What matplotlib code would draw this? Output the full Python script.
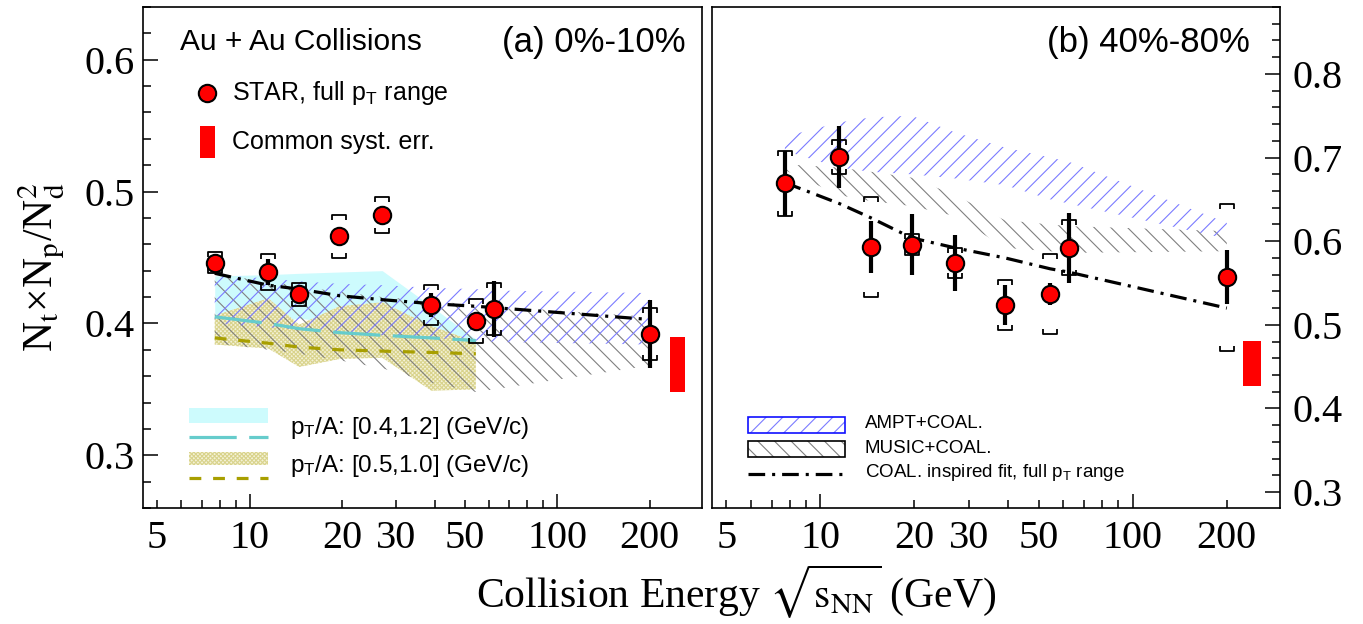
import numpy as np
import matplotlib
matplotlib.use('Agg')
import matplotlib.pyplot as plt
from matplotlib.path import Path
from matplotlib.patches import Rectangle
from matplotlib.ticker import FixedLocator, FuncFormatter, MultipleLocator

plt.rcParams['font.family'] = ['Liberation Sans', 'DejaVu Sans']
plt.rcParams['mathtext.fontset'] = 'custom'
plt.rcParams['mathtext.rm'] = 'Liberation Sans'
plt.rcParams['mathtext.it'] = 'Liberation Sans:italic'
plt.rcParams['hatch.linewidth'] = 0.8
plt.rcParams['lines.scale_dashes'] = False

# ---- data ----
energy = [7.7, 11.5, 14.5, 19.6, 27, 39, 54.4, 62.4, 200]
energy_pt = [7.7, 11.5, 14.5, 19.6, 27, 39, 54.4]

# (a) 0-10%
central_val = [0.446, 0.439, 0.422, 0.466, 0.482, 0.414, 0.402, 0.411, 0.392]
central_stat = [0.005, 0.0095, 0.004, 0.004, 0.004, 0.009, 0.002, 0.021, 0.026]
central_syst = [0.008, 0.0137, 0.009, 0.016, 0.0137, 0.015, 0.0167, 0.0198, 0.0197]
central_fit = [0.438, 0.429, 0.426, 0.421, 0.418, 0.415, 0.413, 0.412, 0.403]
ampt_c_hi = [0.437, 0.434, 0.432, 0.430, 0.429, 0.427, 0.426, 0.425, 0.423]
ampt_c_lo = [0.400, 0.397, 0.395, 0.393, 0.391, 0.389, 0.387, 0.386, 0.384]
music_c_hi = [0.437, 0.432, 0.428, 0.424, 0.420, 0.417, 0.414, 0.413, 0.405]
music_c_lo = [0.385, 0.380, 0.377, 0.372, 0.366, 0.355, 0.348, 0.350, 0.368]
cyan_hi = [0.436, 0.437, 0.438, 0.439, 0.440, 0.413, 0.388]
cyan_lo = [0.395, 0.400, 0.404, 0.400, 0.400, 0.390, 0.383]
yellow_hi = [0.406, 0.419, 0.399, 0.413, 0.416, 0.398, 0.386]
yellow_lo = [0.384, 0.381, 0.367, 0.373, 0.374, 0.349, 0.350]
cyan_line = [0.405, 0.400, 0.396, 0.393, 0.391, 0.389, 0.387]
olive_line = [0.389, 0.385, 0.382, 0.380, 0.379, 0.378, 0.377]
central_common = (233, 261, 0.348, 0.390)

# (b) 40-80%
periph_val = [0.669, 0.701, 0.593, 0.596, 0.574, 0.524, 0.537, 0.592, 0.557]
periph_stat = [0.039, 0.037, 0.031, 0.037, 0.033, 0.024, 0.013, 0.042, 0.032]
periph_syst = [0.039, 0.0205, 0.060, 0.013, 0.018, 0.030, 0.048, 0.033, 0.088]
periph_fit = [0.670, 0.645, 0.628, 0.604, 0.592, 0.580, 0.567, 0.563, 0.520]
ampt_p_hi = [0.725, 0.742, 0.748, 0.750, 0.730, 0.712, 0.700, 0.695, 0.622]
ampt_p_lo = [0.708, 0.688, 0.683, 0.680, 0.675, 0.667, 0.650, 0.645, 0.603]
music_p_hi = [0.692, 0.688, 0.683, 0.676, 0.655, 0.625, 0.620, 0.618, 0.612]
music_p_lo = [0.685, 0.655, 0.648, 0.642, 0.630, 0.592, 0.588, 0.586, 0.588]
periph_common = (226, 257, 0.427, 0.481)

xticks_major = [10, 100]
xticks_minor = [5, 6, 7, 8, 9, 20, 30, 40, 50, 60, 70, 80, 90, 200]
xlabels_shown = [5, 10, 20, 30, 50, 100, 200]

BLUE = '#7b7bff'
GRAY = '#808080'
CYAN = '#cdfbfd'
CYAN_LINE = '#66cccc'
OLIVE = '#a89f00'
YEL_FACE = '#f4f2d6'
YEL_HATCH = '#d9d38c'

top_br = Path([(-1, -0.7), (-1, 0), (1, 0), (1, -0.7)],
              [Path.MOVETO, Path.LINETO, Path.LINETO, Path.LINETO])
bot_br = Path([(-1, 0.7), (-1, 0), (1, 0), (1, 0.7)],
              [Path.MOVETO, Path.LINETO, Path.LINETO, Path.LINETO])

fig = plt.figure(figsize=(13.63, 6.24), dpi=100)
W, H = 1363, 624
axL = fig.add_axes([143 / W, 1 - 508 / H, 559 / W, 501 / H])
axR = fig.add_axes([712 / W, 1 - 508 / H, 568 / W, 501 / H])


def style_x(ax):
    ax.set_xscale('log')
    ax.set_xlim(4.5, 296)
    ax.xaxis.set_major_locator(FixedLocator(xticks_major))
    ax.xaxis.set_minor_locator(FixedLocator(xticks_minor))
    fmt = FuncFormatter(lambda v, p: f'{v:g}' if round(v) in xlabels_shown else '')
    ax.xaxis.set_major_formatter(fmt)
    ax.xaxis.set_minor_formatter(fmt)
    ax.tick_params(axis='x', which='both', direction='in', top=False, pad=9,
                   labelsize=29, labelfontfamily='Liberation Serif')
    ax.tick_params(axis='x', which='major', length=10, width=1.1)
    ax.tick_params(axis='x', which='minor', length=5.5, width=1.1)
    for s in ax.spines.values():
        s.set_linewidth(1.2)


def draw_points(ax, val, stat, syst, fit):
    e = np.array(energy)
    v = np.array(val)
    s = np.array(syst)
    ax.plot(e, fit, color='k', lw=2.3, ls=(0, (12, 5, 2.2, 5)), zorder=5)
    ax.plot(e, v + s, ls='none', marker=top_br, ms=10, mew=1.3, mec='k', mfc='none', zorder=6)
    ax.plot(e, v - s, ls='none', marker=bot_br, ms=10, mew=1.3, mec='k', mfc='none', zorder=6)
    ax.errorbar(e, v, yerr=stat, fmt='o', ms=12.5, mfc='#ff0000', mec='k', mew=1.5,
                ecolor='k', elinewidth=3, capsize=0, zorder=7)


def hatch_band(ax, x, lo, hi, color, hatch):
    ax.fill_between(x, lo, hi, facecolor='none', edgecolor=color, linewidth=0,
                    hatch=hatch, zorder=3)


# ---------------- panel (a) ----------------
style_x(axL)
axL.set_ylim(0.26, 0.64)
axL.yaxis.set_major_locator(MultipleLocator(0.1))
axL.yaxis.set_minor_locator(MultipleLocator(0.02))
axL.yaxis.set_major_formatter(FuncFormatter(lambda v, p: f'{v:.1f}'))
axL.tick_params(axis='y', which='both', direction='in', right=False, pad=6,
                labelsize=29, labelfontfamily='Liberation Serif')
axL.tick_params(axis='y', which='major', length=11, width=1.1)
axL.tick_params(axis='y', which='minor', length=5.5, width=1.1)

axL.fill_between(energy_pt, cyan_lo, cyan_hi, color=CYAN, linewidth=0, zorder=1)
axL.fill_between(energy_pt, yellow_lo, yellow_hi, facecolor=YEL_FACE, edgecolor=YEL_HATCH,
                 linewidth=0, hatch='xxxxxxxx', zorder=2)
hatch_band(axL, energy, music_c_lo, music_c_hi, GRAY, '\\\\')
hatch_band(axL, energy, ampt_c_lo, ampt_c_hi, BLUE, '//')
axL.plot(energy_pt, cyan_line, color=CYAN_LINE, lw=2.3, ls=(0, (34, 9)), zorder=4)
axL.plot(energy_pt, olive_line, color=OLIVE, lw=2.3, ls=(0, (8.5, 8.5)), zorder=4)
draw_points(axL, central_val, central_stat, central_syst, central_fit)
axL.add_patch(Rectangle((central_common[0], central_common[2]),
                        central_common[1] - central_common[0],
                        central_common[3] - central_common[2],
                        facecolor='#ff0000', edgecolor='none', zorder=4))

axL.text(0.066, 0.930, 'Au + Au Collisions', transform=axL.transAxes, fontsize=21.5,
         ha='left', va='center')
axL.text(0.971, 0.930, '(a) 0%-10%', transform=axL.transAxes, fontsize=25,
         ha='right', va='center')
axL.plot([0.1145], [0.828], 'o', ms=12.5, mfc='#ff0000', mec='k', mew=1.5,
         transform=axL.transAxes)
axL.text(0.159, 0.828, r'STAR, full p$_\mathrm{T}$ range', transform=axL.transAxes,
         fontsize=18, ha='left', va='center')
axL.add_patch(Rectangle((0.102, 0.699), 0.027, 0.064, transform=axL.transAxes,
                        facecolor='#ff0000', edgecolor='none'))
axL.text(0.159, 0.731, 'Common syst. err.', transform=axL.transAxes, fontsize=18,
         ha='left', va='center')

axL.add_patch(Rectangle((0.082, 0.170), 0.141, 0.030, transform=axL.transAxes,
                        facecolor=CYAN, edgecolor='none'))
axL.plot([0.082, 0.223], [0.142, 0.142], color=CYAN_LINE, lw=2.3, ls=(0, (34, 9)),
         transform=axL.transAxes)
axL.add_patch(Rectangle((0.082, 0.086), 0.141, 0.026, transform=axL.transAxes,
                        facecolor=YEL_FACE, edgecolor=YEL_HATCH, lw=0, hatch='xxxxxxxx'))
axL.plot([0.082, 0.223], [0.060, 0.060], color=OLIVE, lw=2.3, ls=(0, (8.5, 8.5)),
         transform=axL.transAxes)
axL.text(0.263, 0.160, r'p$_\mathrm{T}$/A: [0.4,1.2] (GeV/c)', transform=axL.transAxes,
         fontsize=17.5, ha='left', va='center')
axL.text(0.263, 0.084, r'p$_\mathrm{T}$/A: [0.5,1.0] (GeV/c)', transform=axL.transAxes,
         fontsize=17.5, ha='left', va='center')

# ---------------- panel (b) ----------------
style_x(axR)
axR.set_ylim(0.281, 0.880)
axR.yaxis.set_major_locator(MultipleLocator(0.1))
axR.yaxis.set_minor_locator(MultipleLocator(0.02))
axR.yaxis.set_major_formatter(FuncFormatter(lambda v, p: f'{v:.1f}'))
axR.yaxis.tick_right()
axR.tick_params(axis='y', which='both', direction='in', left=False, right=True, pad=9,
                labelsize=29, labelfontfamily='Liberation Serif')
axR.tick_params(axis='y', which='major', length=11, width=1.1)
axR.tick_params(axis='y', which='minor', length=5.5, width=1.1)

hatch_band(axR, energy, music_p_lo, music_p_hi, GRAY, '\\\\')
hatch_band(axR, energy, ampt_p_lo, ampt_p_hi, BLUE, '//')
draw_points(axR, periph_val, periph_stat, periph_syst, periph_fit)
axR.add_patch(Rectangle((periph_common[0], periph_common[2]),
                        periph_common[1] - periph_common[0],
                        periph_common[3] - periph_common[2],
                        facecolor='#ff0000', edgecolor='none', zorder=4))

axR.text(0.947, 0.930, '(b) 40%-80%', transform=axR.transAxes, fontsize=25,
         ha='right', va='center')

axR.add_patch(Rectangle((0.0634, 0.150), 0.171, 0.032, transform=axR.transAxes,
                        facecolor='none', edgecolor=BLUE, lw=0, hatch='//'))
axR.add_patch(Rectangle((0.0634, 0.150), 0.171, 0.032, transform=axR.transAxes,
                        facecolor='none', edgecolor='#1010ff', lw=1.2))
axR.add_patch(Rectangle((0.0634, 0.102), 0.171, 0.032, transform=axR.transAxes,
                        facecolor='none', edgecolor=GRAY, lw=0, hatch='\\\\'))
axR.add_patch(Rectangle((0.0634, 0.102), 0.171, 0.032, transform=axR.transAxes,
                        facecolor='none', edgecolor='k', lw=1.2))
axR.plot([0.0634, 0.234], [0.068, 0.068], color='k', lw=2.3, ls=(0, (12, 5, 2.2, 5)),
         transform=axR.transAxes)
axR.text(0.269, 0.168, 'AMPT+COAL.', transform=axR.transAxes, fontsize=13.5,
         ha='left', va='center')
axR.text(0.269, 0.118, 'MUSIC+COAL.', transform=axR.transAxes, fontsize=13.5,
         ha='left', va='center')
axR.text(0.269, 0.070, r'COAL. inspired fit, full p$_\mathrm{T}$ range',
         transform=axR.transAxes, fontsize=13.5, ha='left', va='center')

# ---------------- axis titles ----------------
fig.text(0.031, 0.572, r'N$_\mathrm{t}$×N$_\mathrm{p}$/N$_\mathrm{d}^2$', rotation=90,
         ha='center', va='center', fontsize=30, family='Liberation Serif',
         math_fontfamily='stix')
fig.text(0.540, 0.052, r'Collision Energy $\sqrt{\mathrm{s_{NN}}}$ (GeV)',
         ha='center', va='center', fontsize=30, family='Liberation Serif',
         math_fontfamily='stix')

fig.savefig('out.png', dpi=100)
